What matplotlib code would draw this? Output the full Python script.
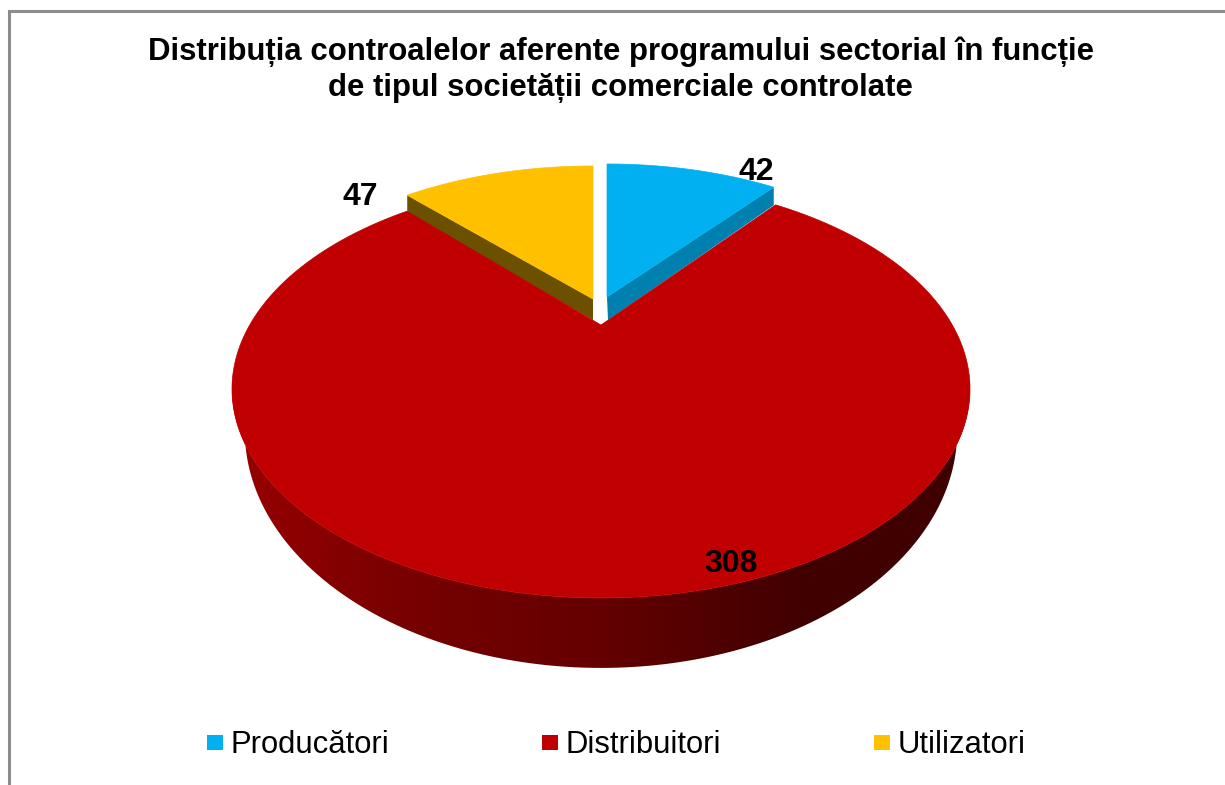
import numpy as np
from matplotlib import pyplot as plt
from matplotlib.colors import LinearSegmentedColormap
from matplotlib.patches import Polygon, Rectangle

title_lines = ['Distribuția controalelor aferente programului sectorial în funcție',
               'de tipul societății comerciale controlate']
categories = ['Producători', 'Distribuitori', 'Utilizatori']
values = [42, 308, 47]
colors = ['#00B0F0', '#C00000', '#FFC000']
side_colors = ['#0080AE', None, '#6B5000']

plt.rcParams['font.family'] = ['Liberation Sans', 'DejaVu Sans']

fig = plt.figure(figsize=(12.25, 7.85), dpi=100)
ax = fig.add_axes([0, 0, 1, 1])
ax.set_xlim(0, 1225)
ax.set_ylim(785, 0)
ax.axis('off')

# angles clockwise from 12 o'clock
edges = np.cumsum([0] + values) / sum(values) * 2 * np.pi


def face(t, apex_x, apex_y, a, b, k):
    # perspective view of the flat disc
    x, y = np.sin(t), np.cos(t)
    w = 1 + k * y
    return apex_x + a * x / w, apex_y - b * y / w


def lower_rim(px, py):
    # same rim at the bottom of the disc, further away so a bit narrower
    return 601 + (px - 601) * 0.965, py + 18 + 0.1307 * (py - 200)


# gray frame only shows on the left and top
ax.plot([9, 9, 1225], [785, 11, 11], color='#8C8C8C', lw=2.2, solid_joinstyle='miter')

# wall of the big slice: horizontal gradient clipped to the rim
t_wall = np.linspace(edges[1], edges[2], 400)
top_x, top_y = face(t_wall, 601, 325, 351.3, 189.4, 0.306)
low_x, low_y = lower_rim(top_x, top_y)
front = top_y > 300
wall = Polygon(np.column_stack([np.r_[top_x[front], low_x[front][::-1]],
                                np.r_[top_y[front], low_y[front][::-1]]]),
               closed=True, facecolor='none', edgecolor='none')
ax.add_patch(wall)
grad_x = np.linspace(220, 980, 380)
shade = np.interp(grad_x, [240, 420, 600, 800, 950], [150, 118, 100, 66, 62]) / 255
wall_cmap = LinearSegmentedColormap.from_list('wall', [(s, 0, 0) for s in shade])
img = ax.imshow(grad_x[np.newaxis, :], cmap=wall_cmap, extent=(220, 980, 700, 380), aspect='auto', zorder=2)
img.set_clip_path(wall)
ax.set_xlim(0, 1225)
ax.set_ylim(785, 0)

# the two pulled out slices, with their cut walls
blue_t = np.linspace(edges[0], edges[1], 100)
bx, by = face(blue_t, 607, 297, 329, 169.7, 0.2757)
ax.add_patch(Polygon([(607, 297), (bx[-1], by[-1]), (bx[-1], by[-1] + 18), (608, 320)], closed=True,
                     color=side_colors[0], lw=0, zorder=3))
ax.add_patch(Polygon(np.column_stack([np.r_[607, bx], np.r_[297, by]]), closed=True, color=colors[0], lw=0.5, zorder=5))

yellow_t = np.linspace(edges[2], edges[3], 100)
yx, yy = face(yellow_t, 593, 299, 330, 169.7, 0.2757)
ax.add_patch(Polygon([(593, 299), (yx[0], yy[0]), (yx[0], yy[0] + 18), (593, 320)], closed=True,
                     color=side_colors[2], lw=0, zorder=3))
ax.add_patch(Polygon(np.column_stack([np.r_[593, yx], np.r_[299, yy]]), closed=True, color=colors[2], lw=0.5, zorder=5))

# top of the big slice
ax.add_patch(Polygon(np.column_stack([np.r_[601, top_x], np.r_[325, top_y]]), closed=True,
                     color=colors[1], lw=0.5, zorder=4))

for line, y in zip(title_lines, [52, 88]):
    ax.text(620.5, y, line, ha='center', va='center', fontsize=22.45, fontweight='bold', color='black', zorder=6)

label_pos = [(756, 172), (731, 564), (360, 197)]
for value, (x, y) in zip(values, label_pos):
    ax.text(x, y, str(value), ha='center', va='center', fontsize=23, fontweight='bold', color='black', zorder=6)

legend_x = [207, 542, 874]
for name, color, x in zip(categories, colors, legend_x):
    ax.add_patch(Rectangle((x, 735), 16, 15, color=color, lw=0, zorder=6))
    ax.text(x + 23.5, 745, name, ha='left', va='center', fontsize=22.3, color='black', zorder=6)

fig.savefig('out.png', dpi=100)
